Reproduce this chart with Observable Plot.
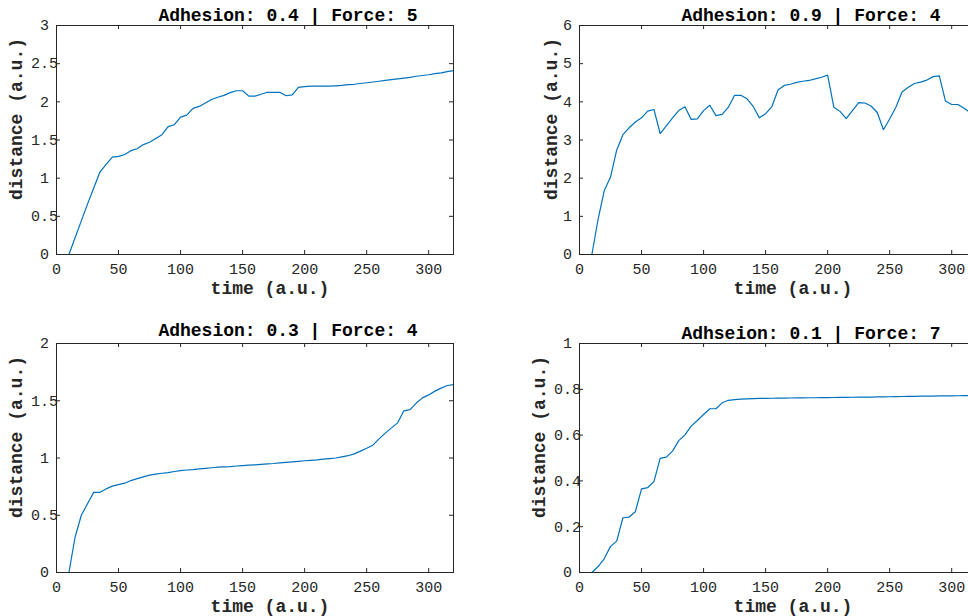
<!DOCTYPE html>
<html>
<head>
<meta charset="utf-8">
<script src="https://cdn.jsdelivr.net/npm/d3@7"></script>
<script src="https://cdn.jsdelivr.net/npm/@observablehq/plot@0.6"></script>
<style>
  html, body { margin: 0; padding: 0; background: #fff; overflow: hidden; width: 968px; height: 616px; }
  #chart { position: relative; width: 968px; height: 616px; overflow: hidden; }
  .panel { position: absolute; }
  .panel svg { display: block; max-width: none; }
</style>
</head>
<body>
<div id="chart"></div>
<script>
// Sampling times (a.u.)
const time = [10, 15, 20, 25, 30, 35, 40, 45, 50, 55, 60, 65, 70, 75, 80, 85, 90, 95, 100,
  105, 110, 115, 120, 125, 130, 135, 140, 145, 150, 155, 160, 165, 170, 175, 180, 185, 190, 195, 200,
  205, 210, 215, 220, 225, 230, 235, 240, 245, 250, 255, 260, 265, 270, 275, 280, 285, 290, 295, 300,
  305, 310, 315, 320];

// Distance travelled for each adhesion / force setting
const distA04F5 = [0, 0.22, 0.44, 0.66, 0.87, 1.08, 1.18, 1.275, 1.285, 1.31, 1.36, 1.385, 1.44, 1.47, 1.52, 1.57, 1.675, 1.70, 1.80,
  1.825, 1.915, 1.94, 1.985, 2.03, 2.06, 2.085, 2.12, 2.145, 2.145, 2.075, 2.075, 2.10, 2.125, 2.125, 2.125, 2.08, 2.09, 2.19, 2.20,
  2.205, 2.205, 2.205, 2.205, 2.21, 2.215, 2.225, 2.23, 2.24, 2.25, 2.26, 2.27, 2.28, 2.29, 2.30, 2.31, 2.32, 2.335, 2.345, 2.355,
  2.37, 2.38, 2.395, 2.41];

const distA09F4 = [0, 0.93, 1.68, 2.03, 2.74, 3.14, 3.32, 3.47, 3.58, 3.755, 3.80, 3.17, 3.37, 3.58, 3.77, 3.87, 3.54, 3.555, 3.77,
  3.91, 3.64, 3.67, 3.86, 4.17, 4.17, 4.08, 3.88, 3.58, 3.69, 3.87, 4.31, 4.43, 4.46, 4.51, 4.54, 4.56, 4.60, 4.645, 4.70,
  3.86, 3.75, 3.56, 3.77, 3.98, 3.97, 3.89, 3.72, 3.27, 3.55, 3.86, 4.26, 4.38, 4.48, 4.515, 4.57, 4.66, 4.68, 4.02, 3.93,
  3.93, 3.83, 3.72, 3.66];

const distA03F4 = [0, 0.31, 0.50, 0.60, 0.70, 0.70, 0.73, 0.754, 0.768, 0.78, 0.803, 0.82, 0.835, 0.85, 0.859, 0.867, 0.873, 0.882, 0.89,
  0.895, 0.899, 0.905, 0.91, 0.915, 0.92, 0.922, 0.925, 0.93, 0.934, 0.937, 0.94, 0.944, 0.948, 0.952, 0.958, 0.962, 0.966, 0.971, 0.976,
  0.98, 0.984, 0.99, 0.995, 1.0, 1.01, 1.02, 1.036, 1.06, 1.085, 1.112, 1.167, 1.217, 1.263, 1.307, 1.412, 1.423, 1.48, 1.525, 1.551,
  1.584, 1.61, 1.633, 1.64];

const distA01F7 = [0, 0.026, 0.061, 0.114, 0.137, 0.239, 0.242, 0.265, 0.365, 0.371, 0.397, 0.498, 0.504, 0.53, 0.576, 0.601, 0.639, 0.664, 0.69,
  0.715, 0.715, 0.741, 0.752, 0.755, 0.757, 0.758, 0.759, 0.76, 0.7605, 0.761, 0.7612, 0.7615, 0.762, 0.7622, 0.7625, 0.763, 0.7632, 0.7635, 0.764,
  0.7642, 0.7645, 0.765, 0.7652, 0.7655, 0.766, 0.7662, 0.7665, 0.767, 0.7675, 0.768, 0.7685, 0.769, 0.7695, 0.77, 0.7703, 0.7706, 0.771, 0.7712, 0.7715,
  0.7718, 0.772, 0.772, 0.7722];

const titles = ["Adhesion: 0.4 | Force: 5", "Adhesion: 0.9 | Force: 4", "Adhesion: 0.3 | Force: 4", "Adhseion: 0.1 | Force: 7"];
const xLabel = "time (a.u.)";
const yLabel = "distance (a.u.)";

const xTicks = [0, 50, 100, 150, 200, 250, 300];
const yTicksA = [0, 0.5, 1, 1.5, 2, 2.5, 3];
const yTicksB = [0, 1, 2, 3, 4, 5, 6];
const yTicksC = [0, 0.5, 1, 1.5, 2];
const yTicksD = [0, 0.2, 0.4, 0.6, 0.8, 1];

const INK = "#262626";
const LINE = "#0072BD";
const FONT = "'Courier New', 'Liberation Mono', monospace";

function panel(values, yTicks, title, box) {
  const {left, top, width, height, mt, mb, ml, mr, titleDy, ylabDx} = box;
  const fw = width - ml - mr;
  const fh = height - mt - mb;
  const data = time.map((t, i) => ({t, d: values[i]}));
  const svg = Plot.plot({
    width, height,
    marginTop: mt, marginBottom: mb, marginLeft: ml, marginRight: mr,
    x: {domain: [0, 320]},
    y: {domain: d3.extent(yTicks)},
    style: {fontFamily: FONT, fontSize: "15px", color: INK, background: "#fff", overflow: "visible"},
    marks: [
      Plot.line(data, {x: "t", y: "d", stroke: LINE, strokeWidth: 1.2}),
      // inward ticks on all four sides
      Plot.tickX(xTicks, {x: d => d, insetTop: fh - 4, stroke: INK}),
      Plot.tickX(xTicks, {x: d => d, insetBottom: fh - 4, stroke: INK}),
      Plot.tickY(yTicks, {y: d => d, insetRight: fw - 4, stroke: INK}),
      Plot.tickY(yTicks, {y: d => d, insetLeft: fw - 4, stroke: INK}),
      Plot.frame({stroke: INK}),
      Plot.axisX(xTicks, {label: null, tickSize: 0, tickPadding: 9, tickFormat: d => String(d)}),
      Plot.axisY(yTicks, {label: null, tickSize: 0, tickPadding: 12, textAnchor: "middle", tickFormat: d => String(d)}),
      Plot.text([title], {frameAnchor: "top", lineAnchor: "bottom", textAnchor: "middle", dx: 33, dy: titleDy,
        fontSize: 18, fontWeight: "bold", fill: "#000"}),
      Plot.text([xLabel], {frameAnchor: "bottom", lineAnchor: "bottom", textAnchor: "middle", dx: 15, dy: 39,
        fontSize: 18, fontWeight: "bold", fill: INK}),
      Plot.text([yLabel], {frameAnchor: "left", rotate: -90, textAnchor: "middle", lineAnchor: "middle", dx: ylabDx, dy: -21,
        fontSize: 18, fontWeight: "bold", fill: INK})
    ]
  });
  const div = document.createElement("div");
  div.className = "panel";
  div.style.left = left + "px";
  div.style.top = top + "px";
  div.appendChild(svg);
  document.getElementById("chart").appendChild(div);
}

panel(distA04F5, yTicksA, titles[0], {left: 0, top: 0, width: 484, height: 305, mt: 25, mb: 51, ml: 56, mr: 31, titleDy: -5, ylabDx: -40});
panel(distA09F4, yTicksB, titles[1], {left: 484, top: 0, width: 492, height: 305, mt: 25, mb: 51, ml: 95, mr: 0, titleDy: -5, ylabDx: -28});
panel(distA03F4, yTicksC, titles[2], {left: 0, top: 305, width: 484, height: 311, mt: 38, mb: 44, ml: 56, mr: 31, titleDy: -8, ylabDx: -40});
panel(distA01F7, yTicksD, titles[3], {left: 484, top: 305, width: 492, height: 311, mt: 38, mb: 44, ml: 95, mr: 0, titleDy: -5, ylabDx: -40});
</script>
</body>
</html>
